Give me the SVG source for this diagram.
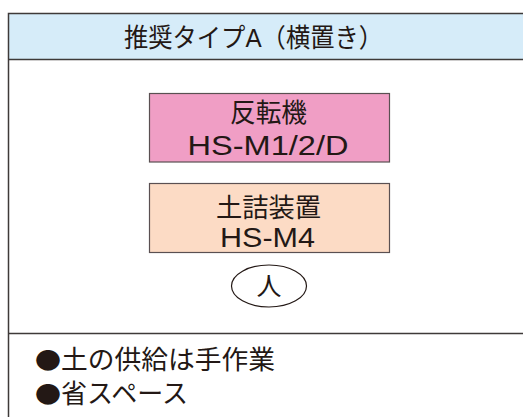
<svg xmlns="http://www.w3.org/2000/svg" width="523" height="417" viewBox="0 0 523 417">
<style>
.t{font-family:"Liberation Sans","Noto Sans CJK JP",sans-serif;fill:#231815;font-size:26px;}
.b{font-family:"Noto Sans CJK JP",sans-serif;font-size:23px;}
.c{text-anchor:middle;}
.ln{stroke:#3e3a39;stroke-width:1.5;fill:none;}
</style>
<rect width="523" height="417" fill="#ffffff"/>
<g id="frame">
<rect x="9" y="14" width="514" height="45.5" fill="#d6ecf9"/>
<path class="ln" d="M8.5 417V13.5H523"/>
<path class="ln" d="M8.5 59.5H523"/>
<path class="ln" d="M8.5 333.5H523"/>
<text class="t" x="124" y="47" textLength="259" lengthAdjust="spacingAndGlyphs">推奨タイプA（横置き）</text>
</g>
<g id="connectors"></g>
<g id="node-hanten">
<rect x="149.5" y="93.5" width="240" height="68.5" fill="#f09ec5" stroke="#5a5052" stroke-width="1.2"/>
<text class="t" x="230" y="121.5" textLength="77" lengthAdjust="spacingAndGlyphs">反転機</text>
<text class="t" x="187.5" y="155" textLength="161" lengthAdjust="spacingAndGlyphs" style="font-size:28px">HS-M1/2/D</text>
</g>
<g id="node-tsuchi">
<rect x="149.5" y="183.5" width="240" height="69" fill="#fcdbc5" stroke="#5a5052" stroke-width="1.2"/>
<text class="t" x="216" y="216.5" textLength="105" lengthAdjust="spacingAndGlyphs">土詰装置</text>
<text class="t" x="220" y="247" textLength="95" lengthAdjust="spacingAndGlyphs" style="font-size:27px">HS-M4</text>
</g>
<g id="node-hito">
<ellipse cx="269" cy="286" rx="37.5" ry="21" fill="#ffffff" stroke="#231815" stroke-width="1.2"/>
<text class="t c" x="269" y="295" style="font-size:25px">人</text>
</g>
<g id="notes">
<text class="t" x="35" y="368.5"><tspan class="b" textLength="26" lengthAdjust="spacingAndGlyphs">●</tspan><tspan textLength="214" lengthAdjust="spacingAndGlyphs">土の供給は手作業</tspan></text>
<text class="t" x="35" y="402.5"><tspan class="b" textLength="26" lengthAdjust="spacingAndGlyphs">●</tspan>省スペース</text>
</g>
</svg>
